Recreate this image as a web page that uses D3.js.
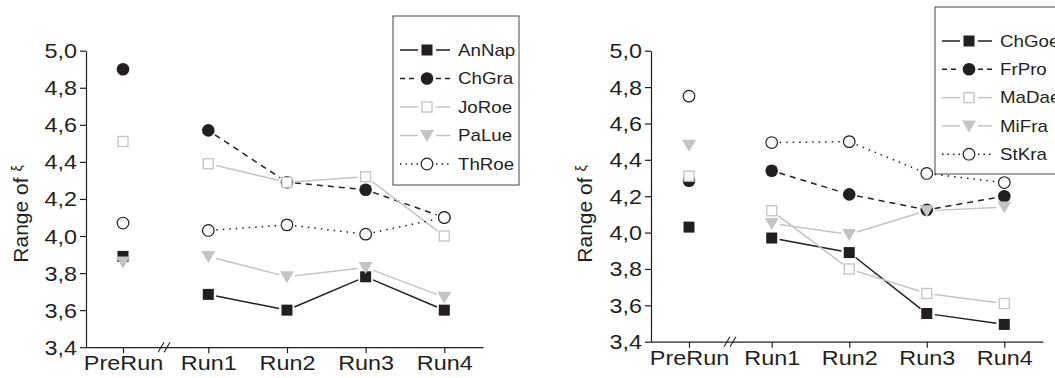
<!DOCTYPE html>
<html>
<head>
<meta charset="utf-8">
<script src="https://cdn.jsdelivr.net/npm/d3@7"></script>
<style>
  body { margin: 0; background: #fff; }
  svg text { font-family: "Liberation Sans", Arial, sans-serif; fill: #231f20; }
</style>
</head>
<body>
<div id="chart"></div>
<script>
// categories and ticks
var runs = ['PreRun', 'Run1', 'Run2', 'Run3', 'Run4'];
var y_ticks = [3.4, 3.6, 3.8, 4.0, 4.2, 4.4, 4.6, 4.8, 5.0];

// left panel series
var left_names = ['AnNap', 'ChGra', 'JoRoe', 'PaLue', 'ThRoe'];
var an_nap = [3.89, 3.685, 3.60, 3.78, 3.60];
var ch_gra = [4.90, 4.57, 4.29, 4.25, 4.10];
var jo_roe = [4.51, 4.39, 4.29, 4.32, 4.00];
var pa_lue = [3.86, 3.89, 3.78, 3.83, 3.67];
var th_roe = [4.07, 4.03, 4.06, 4.01, 4.10];

// right panel series
var right_names = ['ChGoe', 'FrPro', 'MaDae', 'MiFra', 'StKra'];
var ch_goe = [4.03, 3.97, 3.89, 3.555, 3.495];
var fr_pro = [4.285, 4.34, 4.21, 4.125, 4.20];
var ma_dae = [4.31, 4.12, 3.80, 3.665, 3.61];
var mi_fra = [4.48, 4.05, 3.99, 4.12, 4.14];
var st_kra = [4.75, 4.495, 4.50, 4.325, 4.275];

var chart_width = 1055;
var chart_height = 378;
var ink = '#231f20';
var grey = '#c4c4c4';
var stretch = 1.17; // the figure's text is wider than plain Arial

// one style per series slot
var styles = [
  { shape: 'square', fill: ink, stroke: ink, line: ink, dash: null },
  { shape: 'circle', fill: ink, stroke: ink, line: ink, dash: '6,5' },
  { shape: 'square', fill: '#fff', stroke: grey, line: grey, dash: null },
  { shape: 'triangle', fill: grey, stroke: grey, line: grey, dash: null },
  { shape: 'circle', fill: '#fff', stroke: ink, line: ink, dash: '1.5,5' }
];

var svg = d3.select('#chart')
  .append('svg')
  .attr('width', chart_width)
  .attr('height', chart_height);

function drawMarker(g, style, x, y) {
  if (style.shape === 'square') {
    var s = style.fill === '#fff' ? 10 : 11;
    g.append('rect')
      .attr('x', x - s / 2).attr('y', y - s / 2)
      .attr('width', s).attr('height', s)
      .attr('fill', style.fill)
      .attr('stroke', style.stroke)
      .attr('stroke-width', style.fill === '#fff' ? 1.3 : 0);
  } else if (style.shape === 'circle') {
    g.append('circle')
      .attr('cx', x).attr('cy', y)
      .attr('r', style.fill === '#fff' ? 5.8 : 6.3)
      .attr('fill', style.fill)
      .attr('stroke', style.stroke)
      .attr('stroke-width', style.fill === '#fff' ? 1.2 : 0);
  } else {
    g.append('path')
      .attr('d', 'M' + (x - 7) + ',' + (y - 5.5) + 'L' + (x + 7) + ',' + (y - 5.5) + 'L' + x + ',' + (y + 6.5) + 'Z')
      .attr('fill', style.fill);
  }
}

function drawPanel(p) {
  var g = svg.append('g');

  var x_scale = d3.scaleLinear()
    .domain([-1, 0, 1, 4, 4.5])
    .range(p.x_range);

  var y_scale = d3.scaleLinear()
    .domain([3.4, 5.0])
    .range([p.bottom, p.top]);

  var x_axis = d3.axisBottom(x_scale)
    .tickValues([0, 1, 2, 3, 4])
    .tickFormat((i) => runs[i])
    .tickSizeOuter(0)
    .tickSizeInner(6)
    .tickPadding(3);

  var y_axis = d3.axisLeft(y_scale)
    .tickValues(y_ticks)
    .tickFormat((d) => d3.format('.1f')(d).replace('.', ','))
    .tickSizeOuter(0)
    .tickSizeInner(6)
    .tickPadding(3);

  var xa = g.append('g')
    .attr('transform', 'translate(0,' + p.bottom + ')')
    .call(x_axis);
  var ya = g.append('g')
    .attr('transform', 'translate(' + p.x_range[0] + ',0)')
    .call(y_axis);

  [xa, ya].forEach(function(a) {
    a.select('.domain').attr('stroke', ink).attr('stroke-width', 1.2);
    a.selectAll('.tick line').attr('stroke', ink).attr('stroke-width', 1.2);
    a.selectAll('.tick text').attr('font-size', 20).attr('fill', ink)
      .attr('font-family', '"Liberation Sans", Arial, sans-serif')
      .attr('transform', 'scale(' + stretch + ',1)');
  });
  ya.selectAll('.tick text').attr('dy', '0.35em').attr('x', -9 / stretch);

  // axis break marks
  [-3, 3].forEach(function(o) {
    var bx = p.break_x + o;
    g.append('line')
      .attr('x1', bx - 3).attr('y1', p.bottom + 5)
      .attr('x2', bx + 3).attr('y2', p.bottom - 5)
      .attr('stroke', ink).attr('stroke-width', 1.1);
  });

  // y axis title
  var tt = g.append('text')
    .attr('transform', 'translate(' + p.title_x + ',' + p.title_y + ') rotate(-90)')
    .attr('text-anchor', 'middle')
    .attr('font-size', 21);
  tt.append('tspan').text('Range of ');
  tt.append('tspan').attr('font-size', 14).attr('dy', -6).text('ξ');

  // lines between the runs, stopped short of the markers
  var gap = 8;
  p.series.forEach(function(vals, k) {
    var st = styles[k];
    for (var i = 1; i < vals.length - 1; i++) {
      var x1 = x_scale(i), y1 = y_scale(vals[i]);
      var x2 = x_scale(i + 1), y2 = y_scale(vals[i + 1]);
      var len = Math.hypot(x2 - x1, y2 - y1);
      var ux = (x2 - x1) / len, uy = (y2 - y1) / len;
      g.append('line')
        .attr('x1', x1 + ux * gap).attr('y1', y1 + uy * gap)
        .attr('x2', x2 - ux * gap).attr('y2', y2 - uy * gap)
        .attr('stroke', st.line)
        .attr('stroke-width', 1.5)
        .attr('stroke-dasharray', st.dash);
    }
  });

  // markers
  p.series.forEach(function(vals, k) {
    vals.forEach(function(v, i) {
      drawMarker(g, styles[k], x_scale(i), y_scale(v));
    });
  });

  // legend
  var lg = g.append('g');
  lg.append('rect')
    .attr('x', p.legend.x).attr('y', p.legend.y)
    .attr('width', p.legend.w).attr('height', p.legend.h)
    .attr('fill', '#fff')
    .attr('stroke', '#444').attr('stroke-width', 1);
  p.names.forEach(function(name, k) {
    var st = styles[k];
    var ly = p.legend.first + k * p.legend.step;
    var lx = p.legend.x + 7;
    [[lx, lx + 18], [lx + 36, lx + 50]].forEach(function(seg) {
      lg.append('line')
        .attr('x1', seg[0]).attr('x2', seg[1])
        .attr('y1', ly).attr('y2', ly)
        .attr('stroke', st.line).attr('stroke-width', 1.5)
        .attr('stroke-dasharray', st.dash ? (st.dash === '6,5' ? '5,4' : '1.5,4') : null);
    });
    drawMarker(lg, st, lx + 27, ly);
    lg.append('text')
      .attr('transform', 'translate(' + (lx + 58) + ',' + ly + ') scale(' + stretch + ',1)')
      .attr('dy', '0.36em')
      .attr('font-size', 16)
      .text(name);
  });
}

drawPanel({
  x_range: [86, 123, 208.3, 444.3, 483],
  top: 50.7,
  bottom: 347.2,
  break_x: 164,
  title_x: 28,
  title_y: 214,
  names: left_names,
  series: [an_nap, ch_gra, jo_roe, pa_lue, th_roe],
  legend: { x: 393, y: 16, w: 126, h: 169, first: 50, step: 28.5 }
});

drawPanel({
  x_range: [651, 689, 771.7, 1004.3, 1043],
  top: 50.7,
  bottom: 341.7,
  break_x: 730,
  title_x: 592,
  title_y: 214,
  names: right_names,
  series: [ch_goe, fr_pro, ma_dae, mi_fra, st_kra],
  legend: { x: 935, y: 7, w: 130, h: 167, first: 41, step: 28.3 }
});
</script>
</body>
</html>
